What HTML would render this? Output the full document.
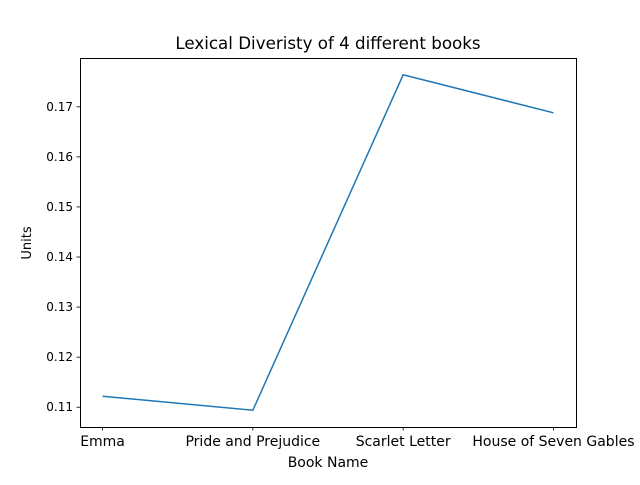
<!DOCTYPE html>
<html><head><meta charset="utf-8"><style>
body{margin:0;background:#fff}
svg text{font-family:"DejaVu Sans","Liberation Sans",sans-serif;fill:#000}
</style></head><body>
<svg id="chart" width="640" height="480">
<rect width="640" height="480" fill="#fff"/>
<text x="328" y="49" text-anchor="middle" font-size="16.7">Lexical Diveristy of 4 different books</text>
<text x="328" y="467" text-anchor="middle" font-size="14">Book Name</text>
<text x="31" y="243" text-anchor="middle" font-size="13" transform="rotate(-90 31 243)">Units</text>
<g id="ticks"></g>
<g id="series"></g>
<rect x="80.5" y="58.5" width="496" height="369" fill="none" stroke="#000" stroke-width="1"/>
</svg>
<script>
const categories = ["Emma","Pride and Prejudice","Scarlet Letter","House of Seven Gables"];
const values = [0.1122, 0.1094, 0.1764, 0.1688];
const yTicks = [0.11,0.12,0.13,0.14,0.15,0.16,0.17];

const L=80,R=576,T=58,B=427;
const ymin=Math.min(...values), ymax=Math.max(...values), pad=(ymax-ymin)*0.05;
const y0=ymin-pad, y1=ymax+pad;
const n=categories.length, xpad=(n-1)*0.05;
const xs=i=>L+(i+xpad)/((n-1)+2*xpad)*(R-L);
const ys=v=>B-(v-y0)/(y1-y0)*(B-T);
const NS="http://www.w3.org/2000/svg";
const tg=document.getElementById('ticks'), sg=document.getElementById('series');
function mk(tag,attrs,parent){const e=document.createElementNS(NS,tag);for(const k in attrs)e.setAttribute(k,attrs[k]);parent.appendChild(e);return e;}
yTicks.forEach(t=>{
  const y=ys(t);
  const ln=mk('line',{x1:L-3.5,x2:L,y1:y,y2:y,stroke:'#000','stroke-width':0.8},tg);
  
  
  const tx=mk('text',{x:L-7,y:y+4,'text-anchor':'end','font-size':12},tg);
  tx.textContent=t.toFixed(2);
  
  
});
categories.forEach((c,i)=>{
  const x=xs(i);
  const ln=mk('line',{x1:x,x2:x,y1:B,y2:B+3.5,stroke:'#000','stroke-width':0.8},tg);
  
  
  const tx=mk('text',{x:x,y:B+19,'text-anchor':'middle','font-size':14},tg);
  tx.textContent=c;
  
  
});
const pl=mk('polyline',{points:values.map((v,i)=>xs(i)+','+ys(v)).join(' '),fill:'none',stroke:'#1f77b4','stroke-width':1.5},sg);


</script>
</body></html>
